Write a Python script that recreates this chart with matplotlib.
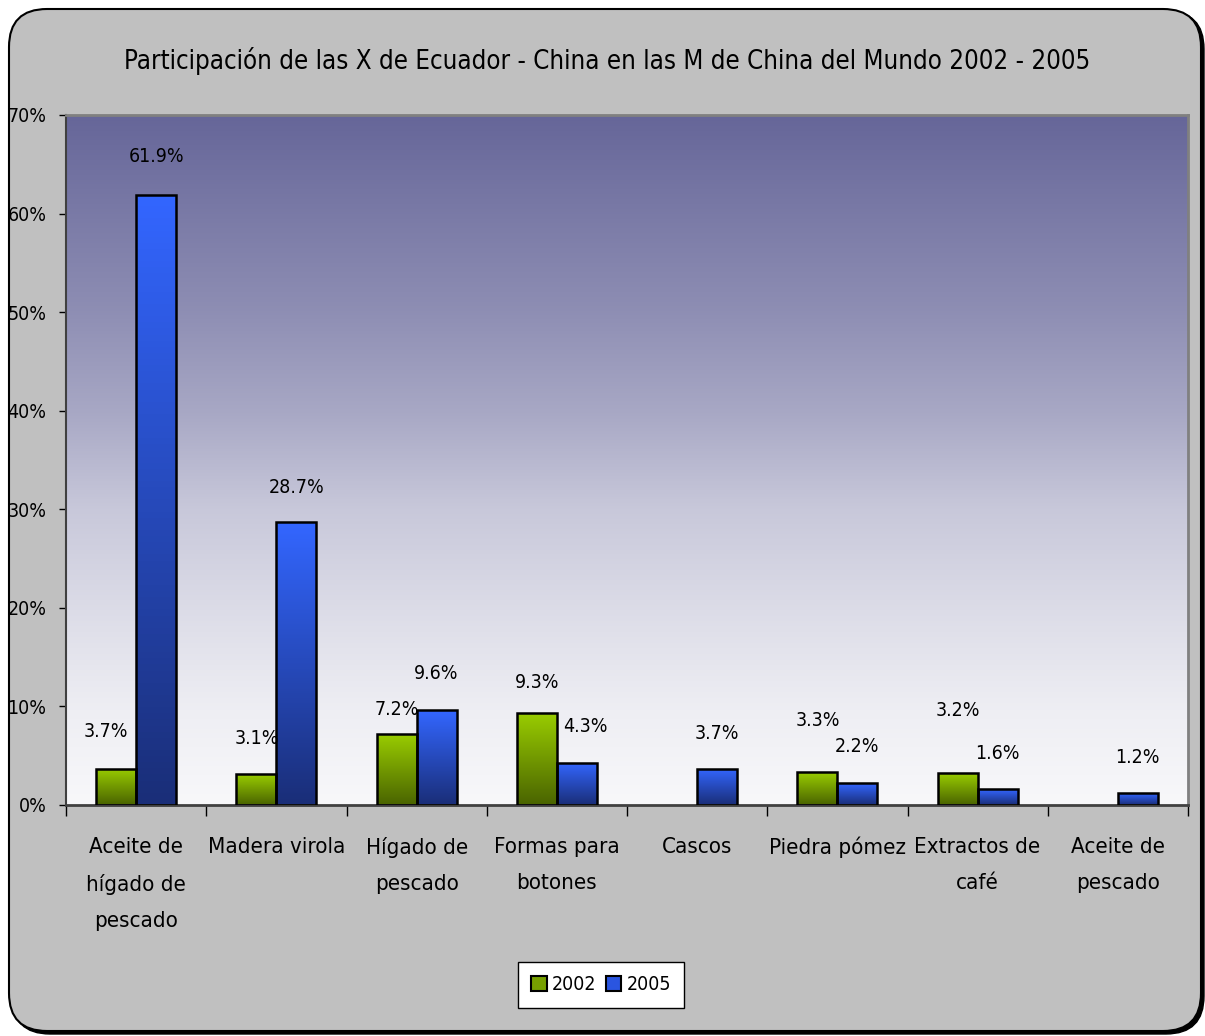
import numpy as np
import matplotlib
matplotlib.use('Agg')
import matplotlib.pyplot as plt
from matplotlib.patches import FancyBboxPatch, Patch
from matplotlib.transforms import IdentityTransform
from matplotlib.colors import LinearSegmentedColormap

plt.rcParams['font.family'] = ['DejaVu Sans']
plt.rcParams['font.stretch'] = 'condensed'

# data
title = 'Participación de las X de Ecuador - China en las M de China del Mundo 2002 - 2005'
categories = ['Aceite de\nhígado de\npescado', 'Madera virola', 'Hígado de\npescado',
              'Formas para\nbotones', 'Cascos', 'Piedra pómez', 'Extractos de\ncafé',
              'Aceite de\npescado']
series_names = ['2002', '2005']
v2002 = [3.7, 3.1, 7.2, 9.3, np.nan, 3.3, 3.2, np.nan]
v2005 = [61.9, 28.7, 9.6, 4.3, 3.7, 2.2, 1.6, 1.2]
yticks = [0, 10, 20, 30, 40, 50, 60, 70]

# label offsets (px) that were moved by hand in the original
lab_dy_2002 = [37, 36, 25, 31, 36, 52, 63, 36]
lab_dx_2002 = [-10, 0, 0, 0, 0, 0, 0, 0]
lab_dy_2005 = [38, 35, 37, 36, 35, 37, 36, 36]
lab_dx_2005 = [0, 0, 0, 9, 0, 0, 0, 0]

W, H = 1205, 1036
fig = plt.figure(figsize=(W / 100, H / 100), dpi=100)
fig.patch.set_facecolor('white')

# rounded grey frame with shadow
shadow = FancyBboxPatch((12, 2), 1192, 1023, boxstyle='round,pad=0,rounding_size=38',
                        transform=IdentityTransform(), facecolor='black', edgecolor='black',
                        zorder=-2)
frame = FancyBboxPatch((9, 5), 1192, 1022, boxstyle='round,pad=0,rounding_size=38',
                       transform=IdentityTransform(), facecolor='#c0c0c0', edgecolor='black',
                       linewidth=1.5, zorder=-1)
fig.patches.extend([shadow, frame])

ax = fig.add_axes([66 / W, 1 - 805 / H, (1188 - 66) / W, (805 - 115) / H])

# plot-area gradient
fpos = [0, 0.28, 0.43, 0.57, 0.72, 0.86, 1.0]
fval = [0, 0.27, 0.45, 0.67, 0.81, 0.93, 1.0]
top_c = np.array([0x66, 0x66, 0x99]) / 255
bot_c = np.array([0xf8, 0xf8, 0xfa]) / 255
yy = np.linspace(0, 1, 300)
t = np.interp(yy, fpos, fval)
grad = top_c[None, :] * (1 - t[:, None]) + bot_c[None, :] * t[:, None]
ax.imshow(grad[:, None, :], extent=[-0.5, len(categories) - 0.5, 0, 70], aspect='auto',
          origin='upper', zorder=0)

green_cm = LinearSegmentedColormap.from_list('g', ['#4a6400', '#99cc00'])
blue_cm = LinearSegmentedColormap.from_list('b', ['#1a2e78', '#3366ff'])

x = np.arange(len(categories))
bw = 0.285


def grad_bars(xs, vals, cmap):
    bars = ax.bar(xs, vals, bw, facecolor='none', edgecolor='black', linewidth=1.8, zorder=3)
    for b, v in zip(bars, vals):
        if np.isnan(v):
            continue
        x0, w, h = b.get_x(), b.get_width(), b.get_height()
        im = ax.imshow(np.linspace(1, 0, 100)[:, None], cmap=cmap, aspect='auto',
                       extent=[x0, x0 + w, 0, h], origin='upper', zorder=2)
        im.set_clip_path(b)
    return bars


grad_bars(x - bw / 2, v2002, green_cm)
grad_bars(x + bw / 2, v2005, blue_cm)
ax.set_xlim(-0.5, len(categories) - 0.5)
ax.set_ylim(0, 70)

for xs, vals, dxs, dys in [(x - bw / 2, v2002, lab_dx_2002, lab_dy_2002),
                           (x + bw / 2, v2005, lab_dx_2005, lab_dy_2005)]:
    for xi, v, dx, dy in zip(xs, vals, dxs, dys):
        if np.isnan(v):
            continue
        ax.annotate(f'{v:.1f}%', (xi, v), xytext=(dx * 0.72, dy * 0.72),
                    textcoords='offset points', ha='center', va='center',
                    fontsize=14, zorder=5)

# axes styling
ax.set_yticks(yticks)
ax.set_yticklabels([f'{t}%' for t in yticks], fontsize=14)
ax.tick_params(axis='y', length=5, width=1, pad=9, color='black')
ax.set_xticks(x)
ax.set_xticklabels(categories, fontsize=16, linespacing=2.0, va='top')
ax.tick_params(axis='x', which='major', length=0, pad=23)
ax.set_xticks(np.arange(-0.5, len(categories), 1), minor=True)
ax.tick_params(axis='x', which='minor', length=8, width=1, color='black')
for s in ['top', 'right']:
    ax.spines[s].set_color('#808080')
    ax.spines[s].set_linewidth(2)
ax.spines['left'].set_color('#404040')
ax.spines['left'].set_linewidth(1.5)
ax.spines['bottom'].set_color('#404040')
ax.spines['bottom'].set_linewidth(2)

fig.text(607 / W, 1 - 61 / H, title, ha='center', va='center', fontsize=18.5)

handles = [Patch(facecolor='#77a000', edgecolor='black', linewidth=1.5),
           Patch(facecolor='#2a55e0', edgecolor='black', linewidth=1.5)]
leg = fig.legend(handles, series_names, loc='center', bbox_to_anchor=(601 / W, 1 - 985 / H),
                 ncol=2, fontsize=14, frameon=True, fancybox=False, handlelength=0.8,
                 handleheight=0.8, handletextpad=0.25, columnspacing=0.5, borderpad=0.7,
                 borderaxespad=0.3)
leg.get_frame().set_edgecolor('black')
leg.get_frame().set_facecolor('white')
leg.get_frame().set_linewidth(1)
leg.get_frame().set_alpha(1)

fig.savefig('out.png', dpi=100)
